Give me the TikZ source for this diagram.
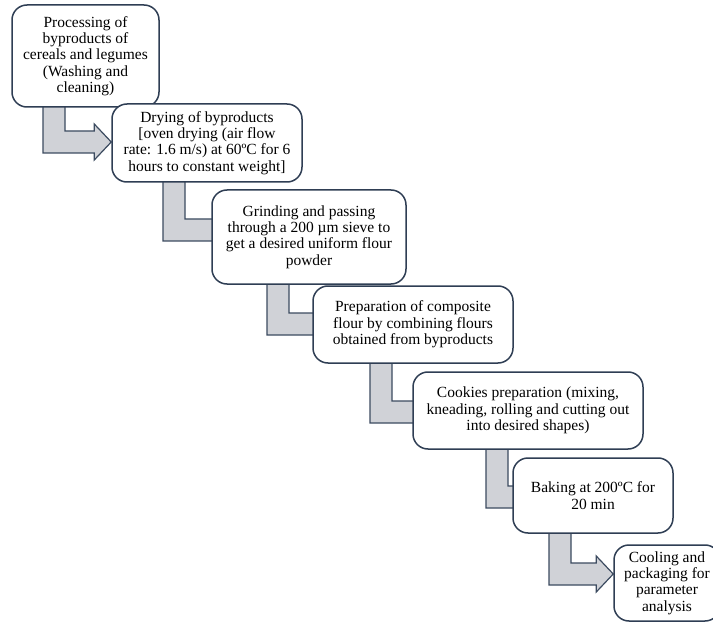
\documentclass[tikz,border=0pt]{standalone}
\usepackage{fontspec}
\setmainfont{Liberation Serif}
\usetikzlibrary{calc}
\pgfdeclarelayer{back}
\pgfdeclarelayer{bg}
\pgfsetlayers{back,bg,main}
\definecolor{boxline}{HTML}{2F3E54}
\definecolor{arrfill}{HTML}{D0D2D7}
\definecolor{arrline}{HTML}{3C4B60}
\tikzset{
  stepbox/.style={draw=boxline, line width=1.5pt, fill=white, rounded corners=15pt,
    align=center, inner sep=0pt, font=\fontsize{15.5}{16.3}\selectfont},
  barrow/.style={draw=arrline, line width=1.2pt, fill=arrfill, line join=miter}
}
% #1 from node, #2 to node, #3 shaft left x, #4 shaft bottom y, #5 tip offset
\newcommand\bentarr[5]{%
  \draw[barrow] let \p1=(#1.south), \p2=(#2.west) in
    (#3pt,\y1+6pt) -- (#3pt,-#4pt) -- (\x2+#5pt-17pt,-#4pt) -- (\x2+#5pt-17pt,-#4pt-7pt)
    -- (\x2+#5pt,-#4pt+11pt) -- (\x2+#5pt-17pt,-#4pt+29pt) -- (\x2+#5pt-17pt,-#4pt+22pt)
    -- (#3pt+22pt,-#4pt+22pt) -- (#3pt+22pt,\y1+6pt) -- cycle;}
\begin{document}
\begin{tikzpicture}[x=1pt,y=-1pt]
\clip (0,0) rectangle (713,623);
\begin{pgfonlayer}{back}
\fill[white] (0,0) rectangle (713,623);
\end{pgfonlayer}
\node[stepbox, minimum width=147pt, minimum height=102pt] (b1) at (85.5,56)
  {Processing of\\byproducts of\\cereals and legumes\\(Washing and\\cleaning)};
\node[stepbox, minimum width=190pt, minimum height=78pt] (b2) at (207,143)
  {Drying of byproducts\\{}[oven drying (air flow\\rate: 1.6 m/s) at 60ºC for 6\\hours to constant weight]};
\node[stepbox, minimum width=194pt, minimum height=94pt] (b3) at (309,237)
  {Grinding and passing\\through a 200 µm sieve to\\get a desired uniform flour\\powder};
\node[stepbox, minimum width=200pt, minimum height=77pt] (b4) at (413,324.5)
  {Preparation of composite\\flour by combining flours\\obtained from byproducts};
\node[stepbox, minimum width=230pt, minimum height=77pt] (b5) at (528,410.5)
  {Cookies preparation (mixing,\\kneading, rolling and cutting out\\into desired shapes)};
\node[stepbox, minimum width=160pt, minimum height=75pt] (b6) at (593,495.5)
  {Baking at 200ºC for\\20 min};
\node[stepbox, minimum width=106pt, minimum height=76pt] (b7) at (667,583)
  {Cooling and\\packaging for\\parameter\\analysis};
\begin{pgfonlayer}{bg}
\bentarr{b1}{b2}{43}{153}{0}
\bentarr{b2}{b3}{163}{241}{22}
\bentarr{b3}{b4}{267}{335}{22}
\bentarr{b4}{b5}{370}{423}{22}
\bentarr{b5}{b6}{486}{508}{22}
\bentarr{b6}{b7}{549}{585}{0}
\end{pgfonlayer}
\end{tikzpicture}
\end{document}
